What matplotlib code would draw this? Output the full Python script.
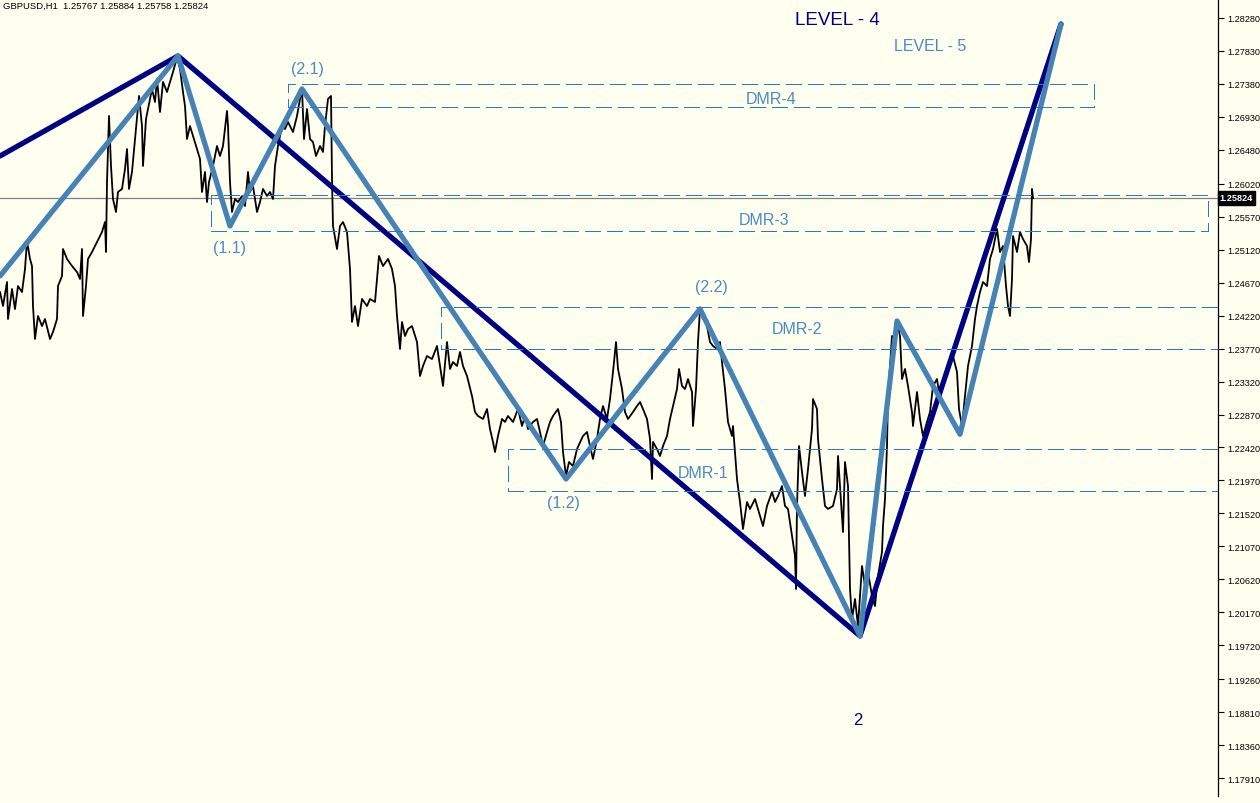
import matplotlib
matplotlib.use("Agg")
import matplotlib.pyplot as plt
import matplotlib.transforms as mtransforms
from matplotlib.patches import Rectangle

plt.rcParams['lines.scale_dashes'] = False
plt.rcParams['font.family'] = ['Liberation Sans', 'DejaVu Sans']

# ---------------- data ----------------
symbol_header = "GBPUSD,H1  1.25767 1.25884 1.25758 1.25824"
last_price = 1.25824

price_bar = [
    0, 3, 7, 8, 12, 15, 18, 22, 25, 27, 30, 32, 33, 35, 38, 42, 45, 50, 53, 57,
    58, 62, 63, 67, 72, 77, 80, 82, 83, 86, 88, 92, 97, 102, 105, 106, 107, 109, 111, 113,
    116, 118, 122, 125, 127, 129, 132, 135, 137, 139, 142, 143, 146, 148, 152, 155, 157, 160, 163, 167,
    170, 173, 177, 180, 183, 185, 187, 190, 193, 197, 200, 202, 205, 207, 209, 213, 217, 220, 223, 227,
    228, 230, 232, 235, 238, 242, 245, 248, 250, 253, 257, 260, 263, 267, 270, 273, 275, 278, 282, 285,
    288, 293, 297, 300, 302, 304, 307, 310, 313, 316, 320, 323, 325, 328, 331, 332, 333, 337, 340, 343,
    347, 350, 352, 355, 358, 362, 367, 370, 375, 379, 383, 388, 392, 395, 397, 400, 402, 405, 408, 412,
    417, 420, 423, 427, 432, 437, 440, 443, 447, 450, 453, 457, 460, 463, 467, 472, 475, 478, 483, 487,
    490, 493, 495, 498, 502, 505, 508, 513, 518, 522, 525, 528, 533, 537, 540, 543, 547, 550, 553, 558,
    561, 563, 566, 569, 573, 577, 583, 587, 590, 593, 597, 600, 603, 607, 610, 613, 616, 618, 622, 625,
    628, 633, 637, 640, 643, 647, 650, 652, 653, 657, 660, 663, 667, 670, 673, 677, 679, 682, 685, 688,
    692, 693, 696, 698, 700, 703, 705, 707, 710, 713, 717, 720, 722, 725, 728, 732, 733, 737, 740, 743,
    747, 750, 755, 760, 763, 767, 772, 775, 778, 782, 785, 788, 792, 795, 796, 797, 799, 802, 805, 808,
    812, 813, 817, 818, 822, 825, 828, 833, 837, 838, 842, 843, 845, 848, 850, 852, 855, 858, 862, 865,
    868, 872, 875, 878, 882, 883, 885, 887, 888, 890, 892, 895, 897, 900, 902, 905, 908, 912, 913, 917,
    920, 923, 927, 930, 933, 937, 940, 943, 947, 950, 953, 957, 959, 962, 965, 968, 972, 975, 977, 980,
    983, 987, 990, 993, 997, 1000, 1003, 1006, 1008, 1010, 1012, 1013, 1017, 1020, 1023, 1027, 1029, 1031, 1032, 1033,
]

price_close = [
    1.24541, 1.24350, 1.24678, 1.24173, 1.24582, 1.24309, 1.24623, 1.24541, 1.24855, 1.25237,
    1.24992, 1.24896, 1.24350, 1.23900, 1.24214, 1.24077, 1.24173, 1.23900, 1.23996, 1.24173,
    1.24623, 1.24760, 1.25128, 1.24992, 1.24896, 1.24814, 1.24719, 1.25128, 1.24214, 1.24623,
    1.24992, 1.25087, 1.25224, 1.25360, 1.25496, 1.25087, 1.26042, 1.26943, 1.26261, 1.25810,
    1.25633, 1.25906, 1.25947, 1.26220, 1.26492, 1.25947, 1.26179, 1.26629, 1.26943, 1.27216,
    1.26806, 1.26261, 1.26902, 1.27038, 1.27311, 1.27134, 1.27448, 1.26997, 1.27407, 1.27270,
    1.27407, 1.27543, 1.27740, 1.27584, 1.27270, 1.27079, 1.26629, 1.26806, 1.26670, 1.26492,
    1.26356, 1.25906, 1.26179, 1.25769, 1.26042, 1.26261, 1.26533, 1.26397, 1.26533, 1.27011,
    1.26806, 1.26042, 1.25633, 1.25810, 1.25769, 1.25851, 1.25715, 1.26179, 1.25906, 1.25988,
    1.25633, 1.25769, 1.25947, 1.25851, 1.25906, 1.25810, 1.26261, 1.26533, 1.26806, 1.26765,
    1.26861, 1.26724, 1.26943, 1.27175, 1.27311, 1.26629, 1.27038, 1.26629, 1.26588, 1.26397,
    1.26533, 1.26452, 1.26806, 1.27175, 1.27216, 1.26083, 1.25442, 1.25128, 1.25442, 1.25496,
    1.25360, 1.24855, 1.24132, 1.24350, 1.24077, 1.24446, 1.24350, 1.24446, 1.24405, 1.25033,
    1.24896, 1.24992, 1.24855, 1.24623, 1.24214, 1.23764, 1.24132, 1.23941, 1.24037, 1.24077,
    1.23859, 1.23395, 1.23532, 1.23668, 1.23627, 1.23805, 1.23532, 1.23259, 1.23859, 1.23491,
    1.23586, 1.23532, 1.23723, 1.23532, 1.23395, 1.23122, 1.22904, 1.22850, 1.22809, 1.22945,
    1.22672, 1.22495, 1.22358, 1.22577, 1.22809, 1.22768, 1.22850, 1.22768, 1.22945, 1.22713,
    1.22850, 1.22672, 1.22768, 1.22809, 1.22631, 1.22440, 1.22631, 1.22768, 1.22850, 1.22945,
    1.22768, 1.22358, 1.22031, 1.22222, 1.22167, 1.22399, 1.22577, 1.22631, 1.22440, 1.22263,
    1.22536, 1.22809, 1.22986, 1.22809, 1.23081, 1.23450, 1.23859, 1.23491, 1.23218, 1.22904,
    1.22809, 1.22904, 1.22986, 1.23040, 1.22945, 1.22809, 1.22536, 1.21990, 1.22495, 1.22399,
    1.22304, 1.22440, 1.22577, 1.22809, 1.22986, 1.23218, 1.23491, 1.23259, 1.23218, 1.23354,
    1.23177, 1.22713, 1.23218, 1.23859, 1.24309, 1.24173, 1.24214, 1.24077, 1.23859, 1.23805,
    1.23764, 1.23859, 1.23586, 1.23218, 1.22768, 1.22577, 1.22713, 1.21990, 1.21676, 1.21308,
    1.21676, 1.21581, 1.21717, 1.21485, 1.21349, 1.21622, 1.21813, 1.21676, 1.21758, 1.21894,
    1.21622, 1.21581, 1.21212, 1.20939, 1.20489, 1.21622, 1.22440, 1.22085, 1.21758, 1.22126,
    1.22672, 1.23081, 1.22945, 1.22536, 1.21990, 1.21622, 1.21581, 1.21622, 1.21853, 1.22304,
    1.21485, 1.21267, 1.22222, 1.21894, 1.20489, 1.20080, 1.20353, 1.19984, 1.20803, 1.20530,
    1.20721, 1.20394, 1.20257, 1.20666, 1.20994, 1.21349, 1.21717, 1.22440, 1.23122, 1.23532,
    1.23941, 1.23900, 1.24132, 1.23941, 1.23354, 1.23491, 1.23259, 1.22904, 1.22713, 1.23177,
    1.22809, 1.22577, 1.22768, 1.22904, 1.23259, 1.23354, 1.23081, 1.23313, 1.23395, 1.23627,
    1.23668, 1.23450, 1.22945, 1.22713, 1.23122, 1.23532, 1.23805, 1.24173, 1.24350, 1.24541,
    1.24678, 1.24623, 1.24992, 1.25128, 1.25401, 1.25087, 1.25169, 1.24623, 1.24350, 1.24214,
    1.24719, 1.25305, 1.25087, 1.25360, 1.25264, 1.25169, 1.24951, 1.25264, 1.25947, 1.25824,
]

# zig-zag wave levels
level4_bar = [0, 178, 860, 1061]
level4_price = [1.26397, 1.27762, 1.19848, 1.28198]
level5_bar = [0, 178, 230, 302, 566, 700, 860, 897, 960, 1061]
level5_price = [1.24760, 1.27762, 1.25442, 1.27311, 1.21990, 1.24310, 1.19848, 1.24146, 1.22600, 1.28198]

# DMR zones
zone_names = ['DMR-4', 'DMR-3', 'DMR-2', 'DMR-1']
zone_start = [288, 211, 441, 508]
zone_end = [1094, 1208, 1300, 1300]
zone_top = [1.27379, 1.25865, 1.24337, 1.22399]
zone_bottom = [1.27065, 1.25374, 1.23764, 1.21826]
zone_label_bar = [771, 764, 797, 703]
zone_label_price = [1.27188, 1.25524, 1.24037, 1.22085]

# pivot labels
pivot_labels = ['(2.1)', '(1.1)', '(1.2)', '(2.2)']
pivot_bar = [307, 229, 563, 711]
pivot_price = [1.27584, 1.25142, 1.21676, 1.24610]

# price scale ticks
tick_values = [1.28280, 1.27830, 1.27380, 1.26930, 1.26480, 1.26020, 1.25570, 1.25120,
               1.24670, 1.24220, 1.23770, 1.23320, 1.22870, 1.22420, 1.21970, 1.21520,
               1.21070, 1.20620, 1.20170, 1.19720, 1.19260, 1.18810, 1.18360, 1.17910]

# ---------------- style ----------------
bg = '#FFFFF0'
navy = '#000080'
steel = '#4682B4'
zone_color = '#2878C8'
label_color = '#4A8AC8'

fig = plt.figure(figsize=(12.6, 8.04), dpi=100)
fig.patch.set_facecolor(bg)
ax = fig.add_axes([0, 7 / 804, 1218 / 1260, 797 / 804])
ax.set_facecolor(bg)
ax.set_xlim(0, 1218)
ax.set_ylim(1.17665, 1.28539)

# current price line
ax.axhline(last_price, color='#808080', lw=0.9, zorder=1)

# price line
ax.plot(price_bar, price_close, color='black', lw=1.3, zorder=2)

# waves
ax.plot(level4_bar, level4_price, color=navy, lw=3.8, zorder=3, solid_capstyle='round')
ax.plot(level5_bar, level5_price, color=steel, lw=3.8, zorder=4, solid_capstyle='round')

# zones
for s, e, t, b in zip(zone_start, zone_end, zone_top, zone_bottom):
    r = Rectangle((s, b), e - s, t - b, fill=False, edgecolor=zone_color, lw=0.75,
                  linestyle=(0, (10.8, 4.6)), zorder=5, antialiased=False)
    ax.add_patch(r)
for name, xb, yp in zip(zone_names, zone_label_bar, zone_label_price):
    ax.text(xb, yp, name, color=label_color, fontsize=11.5, ha='center', va='center', zorder=6)

for name, xb, yp in zip(pivot_labels, pivot_bar, pivot_price):
    ax.text(xb, yp, name, color=label_color, fontsize=11.5, ha='center', va='center', zorder=6)

ax.text(837, 1.28266, 'LEVEL - 4', color=navy, fontsize=13.5, ha='center', va='center', zorder=6)
ax.text(930, 1.27911, 'LEVEL - 5', color=label_color, fontsize=11.5, ha='center', va='center', zorder=6)
ax.text(858, 1.18715, '2', color='#00006A', fontsize=12, ha='center', va='center', zorder=6)

# axes styling
for side in ['left', 'top', 'bottom']:
    ax.spines[side].set_visible(False)
ax.spines['right'].set_color('black')
ax.spines['right'].set_linewidth(0.9)
ax.set_xticks([])
ax.yaxis.tick_right()
ax.set_yticks(tick_values)
ax.set_yticklabels([f'{v:.5f}' for v in tick_values])
ax.tick_params(axis='y', direction='out', length=4, width=0.8, pad=2.5, labelsize=6.6,
               colors='black')

# last price tag
trans = mtransforms.blended_transform_factory(ax.transAxes, ax.transData)
ax.text(1.0015, last_price, f'{last_price:.5f}', transform=trans, color='white', fontsize=6.6,
        fontweight='bold', ha='left', va='center', zorder=10, clip_on=False,
        bbox=dict(boxstyle='square,pad=0.25', facecolor='black', edgecolor='black'))

fig.text(3 / 1260, 1 - 6 / 804, symbol_header, fontsize=6.8, color='black', ha='left', va='center')

fig.savefig('out.png', dpi=100, facecolor=bg)
